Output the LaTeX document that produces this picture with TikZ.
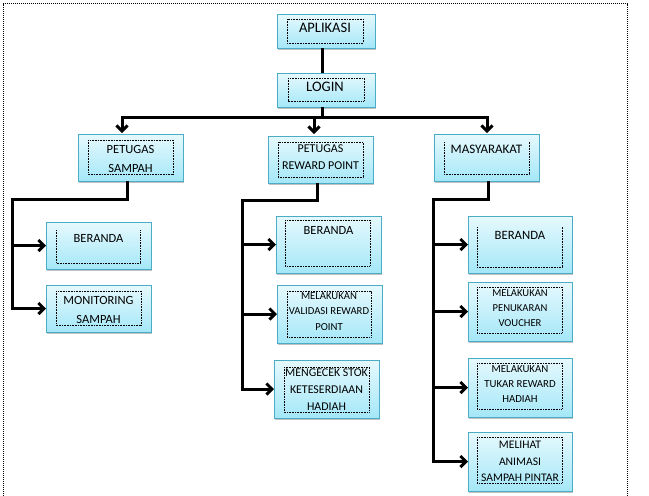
\documentclass[tikz,border=0pt]{standalone}
\usepackage{fontspec}
\setmainfont{Carlito}
\usetikzlibrary{arrows.meta,shadows}
\definecolor{boxborder}{HTML}{4BACC6}
\definecolor{boxtop}{HTML}{E6F9FD}
\definecolor{boxbot}{HTML}{A4E7F8}
\tikzset{
  box/.style={draw=boxborder, line width=0.9pt, top color=boxtop, bottom color=boxbot,
    drop shadow={shadow xshift=1.3pt, shadow yshift=-1.6pt, opacity=0.35, fill=black!70},
    inner sep=0pt, outer sep=0pt, anchor=north west},
  innerbox/.style={draw=black, line width=0.8pt, dash pattern=on 0.8pt off 0.8pt},
  lab/.style={align=center, inner sep=0pt, text=black},
  conn/.style={draw=black, line width=3pt},
  arr/.style={conn, -{Straight Barb[length=5.5pt,width=11pt]}},
  frame/.style={draw=black, line width=1pt, dash pattern=on 1pt off 1pt}
}
\newcommand{\fs}[2]{\fontsize{#1}{#2}\selectfont}
\begin{document}
\begin{tikzpicture}[x=1pt,y=-1pt]
\useasboundingbox (0,0) rectangle (649,496);
% outer dotted frame
\draw[frame] (3,496) -- (3,3.5) -- (627,3.5) -- (627,496);

% ---- top level ----
\node[box, minimum width=98pt, minimum height=34pt] (apl) at (277,14) {};
\draw[innerbox] (287,19) rectangle (363,43);
\node[lab, font=\fs{14.5}{17}] (aplt) at (325,28) {APLIKASI};

\node[box, minimum width=98pt, minimum height=34pt] (login) at (277,73) {};
\draw[innerbox] (288,78) rectangle (364,101);
\node[lab, font=\fs{14.5}{17}] (logint) at (325,87) {LOGIN};

% ---- second level ----
\node[box, minimum width=105pt, minimum height=47pt] (ps) at (78,134) {};
\draw[innerbox] (88,140) rectangle (173,174);
\node[lab, font=\fs{12.5}{19}] (pst) at (130.5,158.5) {PETUGAS\\SAMPAH};

\node[box, minimum width=105pt, minimum height=47pt] (pr) at (268,136) {};
\draw[innerbox] (278,142) rectangle (363,177);
\node[lab, font=\fs{12}{17}] (prt) at (320.5,157.5) {PETUGAS\\REWARD POINT};

\node[box, minimum width=105pt, minimum height=47pt] (ma) at (434,134) {};
\draw[innerbox] (444,142) |- (529,174) -- (529,142);
\node[lab, font=\fs{13}{16}] (mat) at (486.5,149) {MASYARAKAT};

% ---- petugas sampah children ----
\node[box, minimum width=105pt, minimum height=47pt] (b1) at (46,222) {};
\draw[innerbox] (56,230) |- (140,263) -- (140,230);
\node[lab, font=\fs{12.5}{16}] (b1t) at (98.5,238) {BERANDA};

\node[box, minimum width=105pt, minimum height=47pt] (mon) at (46,285) {};
\draw[innerbox] (56,291) rectangle (141,325);
\node[lab, font=\fs{12.5}{19}] (mont) at (98.5,309.5) {MONITORING\\SAMPAH};

% ---- petugas reward point children ----
\node[box, minimum width=105pt, minimum height=57pt] (b2) at (276,216) {};
\draw[innerbox] (285,220) rectangle (370,266);
\node[lab, font=\fs{12.5}{16}] (b2t) at (328.5,230) {BERANDA};

\node[box, minimum width=105pt, minimum height=58pt] (val) at (277,285) {};
\begin{scope}
\clip (287,291) rectangle (371,337);
\node[lab, font=\fs{10.7}{15.5}] (valt) at (329,311.5) {MELAKUKAN\\VALIDASI REWARD\\POINT};
\end{scope}
\draw[innerbox] (287,291) rectangle (371,337);

\node[box, minimum width=105pt, minimum height=58pt] (stok) at (274,360) {};
\draw[innerbox] (284,367) rectangle (369,412);
\node[lab, font=\fs{11.9}{17}] (stokt) at (326.5,390) {MENGECEK STOK\\KETESERDIAAN\\HADIAH};

% ---- masyarakat children ----
\node[box, minimum width=104pt, minimum height=57pt] (b3) at (468,216) {};
\draw[innerbox] (477,227) |- (562,267) -- (562,227);
\node[lab, font=\fs{12.7}{16}] (b3t) at (520,235) {BERANDA};

\node[box, minimum width=104pt, minimum height=59pt] (vou) at (468,282) {};
\draw[innerbox] (477,287) rectangle (562,333);
\node[lab, font=\fs{10.6}{15}] (vout) at (520,308) {MELAKUKAN\\PENUKARAN\\VOUCHER};

\node[box, minimum width=104pt, minimum height=59pt] (tuk) at (468,358) {};
\draw[innerbox] (477,363) rectangle (562,409);
\node[lab, font=\fs{10.8}{15}] (tukt) at (520,384) {MELAKUKAN\\TUKAR REWARD\\HADIAH};

\node[box, minimum width=104pt, minimum height=59pt] (mel) at (468,432) {};
\draw[innerbox] (477,437) rectangle (562,483);
\node[lab, font=\fs{11.6}{16.5}] (melt) at (520,461.5) {MELIHAT\\ANIMASI\\SAMPAH PINTAR};

% ---- connectors ----
\draw[conn] ([xshift=-4pt]apl.south) -- ([xshift=-4pt]login.north);
\coordinate (topbus) at (322,117);
\draw[conn] ([xshift=-4pt]login.south) -- (topbus);
\draw[arr, shorten >=1pt] (topbus) -| ([xshift=-8.5pt]ps.north);
\draw[arr, shorten >=2pt] (topbus) -| ([xshift=-6.5pt]pr.north);
\draw[arr, shorten >=1pt] (topbus) -| ([xshift=0.5pt]ma.north);

\coordinate (psbus) at (12,199);
\draw[arr] ([xshift=-3.5pt]ps.south) |- (psbus) |- (mon.west);
\draw[arr] (psbus |- b1.west) -- (b1.west);

\coordinate (prbus) at (242,200);
\draw[arr] ([xshift=-3.5pt]pr.south) |- (prbus) |- (stok.west);
\draw[arr] (prbus |- b2.west) -- (b2.west);
\draw[arr] (prbus |- val.west) -- (val.west);

\coordinate (mabus) at (433,199);
\draw[arr] ([xshift=1.5pt]ma.south) |- (mabus) |- (mel.west);
\draw[arr] (mabus |- b3.west) -- (b3.west);
\draw[arr] (mabus |- vou.west) -- (vou.west);
\draw[arr] (mabus |- tuk.west) -- (tuk.west);
\end{tikzpicture}
\end{document}
